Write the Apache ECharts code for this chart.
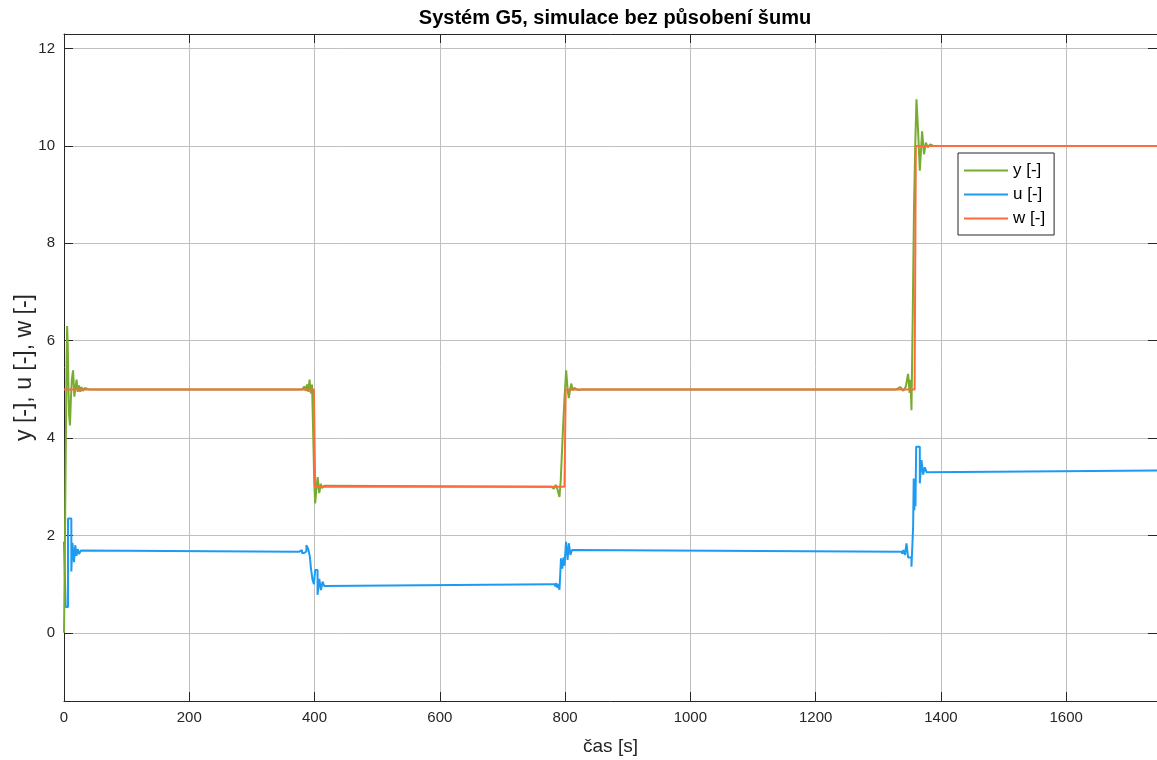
<!DOCTYPE html>
<html>
<head>
<meta charset="utf-8">
<script src="https://cdn.jsdelivr.net/npm/echarts@6/dist/echarts.min.js"></script>
<style>
html,body{margin:0;padding:0;background:#fff;}
#chart{width:1157px;height:760px;}
</style>
</head>
<body>
<div id="chart"></div>
<script>
// ---- data ----
const titleText = 'Systém G5, simulace bez působení šumu';
const xName = 'čas [s]';
const yName = 'y [-], u [-], w [-]';
const seriesNames = ['y [-]', 'u [-]', 'w [-]'];

// output y
const yT = [0, 1, 2, 3, 4, 5, 6, 7, 8, 9.5, 11, 12.5, 14.5, 16.5, 18.5, 20, 22, 24, 26, 28, 30, 33, 36, 40,
  380, 384, 386, 388, 390, 392, 394, 396, 398, 399.5, 401, 403, 405, 407.5, 410, 412, 415, 418,
  778, 782, 785, 788, 791, 793, 795, 797, 799, 801.7, 804, 806, 808, 810, 812, 815, 820, 828,
  1329, 1335, 1340, 1344, 1347.6, 1350, 1351.5, 1353, 1355, 1357, 1359, 1361, 1363.6, 1366.3, 1370, 1373, 1376, 1379, 1383, 1388, 1745];
const yV = [0, 1.2, 2.6, 4.0, 5.4, 6.3, 5.9, 5.1, 4.5, 4.26, 4.8, 5.2, 5.39, 4.85, 4.82, 5.2, 4.95, 5.08, 4.95, 5.05, 4.97, 5.03, 4.99, 5.0,
  5.0, 5.06, 4.97, 5.1, 4.95, 5.2, 4.92, 5.1, 4.0, 3.1, 2.66, 2.95, 3.2, 2.87, 3.06, 2.97, 3.02, 3.0,
  3.0, 2.96, 3.04, 2.94, 2.79, 3.12, 3.1, 4.3, 4.8, 5.39, 5.0, 4.82, 5.0, 5.12, 4.98, 5.03, 4.99, 5.0,
  5.0, 5.05, 4.97, 5.06, 5.32, 4.93, 5.2, 4.57, 6.5, 8.67, 10.0, 10.96, 10.3, 9.49, 10.3, 9.83, 10.07, 9.97, 10.03, 10.0, 10.0];

// control u (zero-order hold)
const uT = [0, 2.7, 6.4, 11.7, 13.5, 16, 18, 20, 22, 24, 27, 30,
  375.5, 380, 383.5, 387, 390, 392.6, 394.2, 396.8, 399, 401, 404.8, 407.5, 410.2, 412.8, 415.5, 418.2,
  780, 784, 786, 788, 790, 791, 793.5, 795.5, 797.5, 799, 801.5, 804, 806, 808.5, 811, 814,
  1338, 1340, 1342.7, 1345, 1347.6, 1353, 1355.6, 1356.6, 1357.6, 1358.6, 1359.4, 1360.5, 1366.3, 1369, 1371.6, 1374.3, 1377, 1380, 1745];
const uV = [1.87, 0.53, 2.35, 1.26, 1.85, 1.45, 1.8, 1.58, 1.72, 1.62, 1.69, 1.667,
  1.7, 1.64, 1.67, 1.8, 1.72, 1.56, 1.33, 1.09, 1.0, 1.29, 0.78, 1.11, 0.88, 1.05, 0.96, 1.0,
  1.0, 0.95, 1.02, 0.92, 1.0, 0.88, 1.53, 1.32, 1.55, 1.38, 1.87, 1.5, 1.84, 1.6, 1.7, 1.667,
  1.62, 1.7, 1.6, 1.84, 1.55, 1.36, 2.15, 3.17, 2.52, 3.1, 2.6, 3.82, 3.07, 3.55, 3.25, 3.4, 3.3, 3.333, 3.333];

// reference w
const wT = [0, 399, 401, 799, 801, 1358, 1360, 1745];
const wV = [5, 5, 3, 3, 5, 5, 10, 10];

const xTicks = [0, 200, 400, 600, 800, 1000, 1200, 1400, 1600];
const yTicks = [0, 2, 4, 6, 8, 10, 12];

// ---- chart ----
const pairs = (t, v) => t.map((x, i) => [x, v[i]]);
const X_MIN = 0, X_MAX = 1745, Y_MIN = -1.4, Y_MAX = 12.3;
const axisCol = '#262626';
const font = 'Liberation Sans, Arial, Helvetica, sans-serif';
const colors = ['#77AC30', '#1E9BF0', '#FF6B3D'];

const chart = echarts.init(document.getElementById('chart'), null, {renderer: 'canvas'});
chart.setOption({
  animation: false,
  backgroundColor: '#ffffff',
  title: {
    text: titleText, left: 610, top: 3, textAlign: 'center',
    textStyle: {fontFamily: font, fontSize: 20, fontWeight: 'bold', color: '#000'}
  },
  legend: {
    orient: 'vertical', left: 958, top: 153,
    data: seriesNames,
    icon: 'rect', itemWidth: 44, itemHeight: 2, itemGap: 7,
    padding: [9, 9, 8, 6],
    borderColor: axisCol, borderWidth: 1, backgroundColor: '#fff',
    textStyle: {fontFamily: font, fontSize: 17, lineHeight: 17, color: '#000'}
  },
  grid: {left: 64, right: 0, top: 34, bottom: 59, containLabel: false, outerBoundsMode: 'none'},
  xAxis: [{
    type: 'value', min: X_MIN, max: X_MAX, interval: 200,
    name: xName, nameLocation: 'middle', nameGap: 36,
    nameTextStyle: {fontFamily: font, fontSize: 19, color: axisCol},
    axisLine: {show: true, onZero: false, lineStyle: {color: axisCol, width: 1}},
    axisTick: {show: true, inside: true, length: 9, lineStyle: {color: axisCol}},
    axisLabel: {fontFamily: font, fontSize: 15, color: axisCol, margin: 9, showMaxLabel: false,
      formatter: v => xTicks.indexOf(v) >= 0 ? String(v) : ''},
    splitLine: {show: true, lineStyle: {color: '#c0c0c0', width: 1}}
  }, {
    type: 'value', min: X_MIN, max: X_MAX, interval: 200, position: 'top',
    axisLine: {show: true, onZero: false, lineStyle: {color: axisCol, width: 1}},
    axisTick: {show: true, inside: true, length: 9, lineStyle: {color: axisCol}},
    axisLabel: {show: false}, splitLine: {show: false}
  }],
  yAxis: [{
    type: 'value', min: Y_MIN, max: Y_MAX, splitNumber: 7,
    name: yName, nameLocation: 'middle', nameGap: 28, nameRotate: 90, nameMoveOverlap: false,
    nameTextStyle: {fontFamily: font, fontSize: 23, color: axisCol},
    axisLine: {show: true, onZero: false, lineStyle: {color: axisCol, width: 1}},
    axisTick: {show: true, inside: true, length: 9, lineStyle: {color: axisCol}},
    axisLabel: {fontFamily: font, fontSize: 15, color: axisCol, margin: 9,
      showMinLabel: false, showMaxLabel: false,
      formatter: v => yTicks.indexOf(v) >= 0 ? String(v) : ''},
    splitLine: {show: true, lineStyle: {color: '#c0c0c0', width: 1}}
  }, {
    type: 'value', min: Y_MIN, max: Y_MAX, splitNumber: 7, position: 'right',
    axisLine: {show: true, onZero: false, lineStyle: {color: axisCol, width: 1}},
    axisTick: {show: true, inside: true, length: 9, lineStyle: {color: axisCol}},
    axisLabel: {show: false}, splitLine: {show: false}
  }],
  series: [{
    name: seriesNames[0], type: 'line', data: pairs(yT, yV),
    showSymbol: false, symbol: 'none', z: 3,
    lineStyle: {color: colors[0], width: 2}, itemStyle: {color: colors[0]}
  }, {
    name: seriesNames[1], type: 'line', data: pairs(uT, uV), step: 'end',
    showSymbol: false, symbol: 'none', z: 2,
    lineStyle: {color: colors[1], width: 2}, itemStyle: {color: colors[1]}
  }, {
    name: seriesNames[2], type: 'line', data: pairs(wT, wV),
    showSymbol: false, symbol: 'none', z: 4,
    lineStyle: {color: colors[2], width: 2}, itemStyle: {color: colors[2]}
  }]
});
</script>
</body>
</html>
